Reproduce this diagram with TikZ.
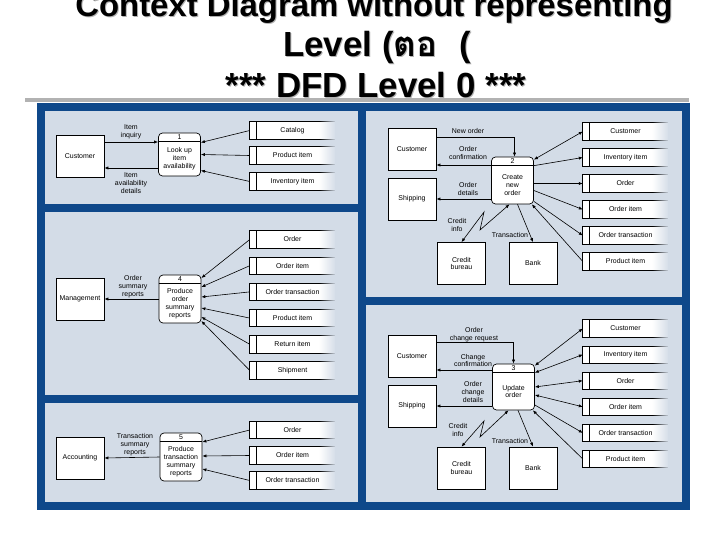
\documentclass[tikz,border=0pt]{standalone}
\usepackage{fontspec}
\setmainfont{Liberation Sans}
\newfontfamily\thaifont[Script=Thai]{Loma}
\usetikzlibrary{arrows.meta, calc, fadings}
\definecolor{frameblue}{RGB}{14,72,138}
\definecolor{panelgray}{RGB}{211,220,231}
\definecolor{rulegray}{RGB}{178,178,178}
\newcommand{\dfd}{\fontsize{7}{8}\selectfont}
\tikzfading[name=fadein, left color=transparent!100, right color=transparent!0]
\tikzset{
  ent/.style   = {draw, fill=white, align=center, minimum width=48bp, minimum height=42bp,
                  inner sep=1pt, font=\dfd, line width=0.7bp},
  proc/.style  = {draw, fill=white, rounded corners=4bp, minimum width=42bp, inner sep=0pt,
                  line width=0.7bp},
  store/.style = {fill=white, minimum width=85bp, minimum height=17bp, inner sep=0pt, font=\dfd},
  sline/.style = {line width=0.7bp},
  ar/.style    = {-{Latex[length=4bp,width=3.2bp]}, line width=0.6bp},
  biar/.style  = {{Latex[length=4bp,width=3.2bp]}-{Latex[length=4bp,width=3.2bp]}, line width=0.6bp},
  lbl/.style   = {font=\dfd, align=center, inner sep=0pt},
  ttl/.style   = {font=\fontsize{35}{40}\selectfont\bfseries, inner sep=0pt},
  ttlsh/.style = {ttl, text=black!30},
}
\newcommand{\dstore}[3]{%
  \node[store] (#1) at (#2) {#3};
  \draw[sline] (#1.north east) -- (#1.north west) -- (#1.south west) -- (#1.south east);
  \draw[sline] ([xshift=7bp]#1.north west) -- ([xshift=7bp]#1.south west);
  \fill[panelgray, path fading=fadein] ([xshift=-16bp,yshift=1bp]#1.north east)
    rectangle ([xshift=1bp,yshift=-1bp]#1.south east);
}
\newcommand{\dproc}[5]{%
  \node[proc, minimum height=#3] (#1) at (#2) {};
  \draw[sline] ([yshift=-9bp]#1.north west) -- ([yshift=-9bp]#1.north east);
  \node[lbl] (#1num) at ([yshift=-4.5bp]#1.north) {#4};
  \node[lbl] (#1txt) at ([yshift=-4.5bp]#1.center) {#5};
}

\begin{document}
\begin{tikzpicture}[x=1bp, y=-1bp]
  \useasboundingbox (0,0) rectangle (720,540);
  \fill[white] (0,0) rectangle (720,540);
  \fill[rulegray] (25,98) rectangle (689,102);
  \node[ttlsh, anchor=base, font=\fontsize{33}{40}\selectfont\bfseries] (t1s) at (375,18)
    {Context Diagram without representing};
  \node[ttl, anchor=base, font=\fontsize{33}{40}\selectfont\bfseries] (t1) at (374,17)
    {Context Diagram without representing};
  \node[ttlsh, anchor=base west] (t2s) at (284,58) {Level ({\thaifont ตอ}\hspace{22bp}(};
  \node[ttl, anchor=base west] (t2) at (283,57) {Level ({\thaifont ตอ}\hspace{22bp}(};
  \node[ttlsh, anchor=base] (t3s) at (377,99) {*** DFD Level 0 ***};
  \node[ttl, anchor=base] (t3) at (376,98) {*** DFD Level 0 ***};

  \fill[frameblue] (37,103) rectangle (690,510);
  \fill[panelgray] (45,111) rectangle (358,204);
  \fill[panelgray] (45,212) rectangle (358,395);
  \fill[panelgray] (45,403) rectangle (358,502);
  \fill[panelgray] (366,111) rectangle (682,297);
  \fill[panelgray] (366,305) rectangle (682,502);

  \node[ent] (cust1) at (80,156) {Customer};
  \dproc{p1}{179.5,154.5}{43bp}{1}{Look up\\item\\availability}
  \dstore{cat1}{292.5,130.5}{Catalog}
  \dstore{prod1}{292.5,155.5}{Product item}
  \dstore{inv1}{292.5,181.5}{Inventory item}
  \draw[ar] ([yshift=14bp]cust1.east) -- ([yshift=14bp]cust1.east -| p1.west);
  \draw[ar] ([yshift=-12bp]cust1.east -| p1.west) -- ([yshift=-12bp]cust1.east);
  \node[lbl] (l11) at (131,131.5) {Item\\inquiry};
  \node[lbl] (l12) at (131,183) {Item\\availability\\details};
  \draw[ar] (cat1.west) -- ([yshift=12bp]p1.east);
  \draw[ar] (prod1.west) -- (p1.east);
  \draw[ar] (inv1.west) -- ([yshift=-16bp]p1.east);

  \node[ent] (mgmt) at (80,299) {Management};
  \dproc{p4}{180,299}{48bp}{4}{Produce\\order\\summary\\reports}
  \dstore{ord4}{292.5,239.5}{Order}
  \dstore{oi4}{292.5,265.7}{Order item}
  \dstore{ot4}{292.5,291.9}{Order transaction}
  \dstore{prod4}{292.5,318.1}{Product item}
  \dstore{ret4}{292.5,344.3}{Return item}
  \dstore{shp4}{292.5,370.5}{Shipment}
  \draw[ar] (p4.west) -- (mgmt.east);
  \node[lbl] (l41) at (133,286.5) {Order\\summary\\reports};
  \draw[ar] (ord4.west) -- ([yshift=21bp]p4.east);
  \draw[ar] (oi4.west) -- ([yshift=12bp]p4.east);
  \draw[ar] (ot4.west) -- ([yshift=2bp]p4.east);
  \draw[ar] (prod4.west) -- ([yshift=-9bp]p4.east);
  \draw[ar] (ret4.west) -- ([yshift=-18bp]p4.east);
  \draw[ar] (shp4.west) -- ([yshift=-22bp]p4.east);

  \node[ent] (acct) at (80,458) {Accounting};
  \dproc{p5}{181,457}{48bp}{5}{Produce\\transaction\\summary\\reports}
  \dstore{ord5}{292.5,430}{Order}
  \dstore{oi5}{292.5,455.5}{Order item}
  \dstore{ot5}{292.5,480.5}{Order transaction}
  \draw[ar] (p5.west) -- (acct.east);
  \node[lbl] (l51) at (135,445) {Transaction\\summary\\reports};
  \draw[ar] (ord5.west) -- ([yshift=15bp]p5.east);
  \draw[ar] (oi5.west) -- ([yshift=1bp]p5.east);
  \draw[ar] (ot5.west) -- ([yshift=-12bp]p5.east);

  \node[ent] (cust2) at (412,149) {Customer};
  \node[ent] (ship2) at (412,199) {Shipping};
  \dproc{p2}{512.5,180.5}{47bp}{2}{Create\\new\\order}
  \node[ent] (cb2) at (461.5,263.5) {Credit\\bureau};
  \node[ent] (bank2) at (533,263.5) {Bank};
  \dstore{cs2}{625.5,131.5}{Customer}
  \dstore{inv2}{625.5,157.5}{Inventory item}
  \dstore{ord2}{625.5,183.5}{Order}
  \dstore{oi2}{625.5,209.5}{Order item}
  \dstore{ot2}{625.5,235.5}{Order transaction}
  \dstore{prod2}{625.5,261.5}{Product item}
  \draw[ar] ([yshift=12bp]cust2.east) -| ([xshift=2bp]p2.north);
  \node[lbl] (l21) at (468,131) {New order};
  \draw[ar] ([yshift=-16bp]cust2.east -| p2.west) -- ([yshift=-16bp]cust2.east);
  \node[lbl] (l22) at (468,153) {Order\\confirmation};
  \draw[ar] (ship2.east -| p2.west) -- (ship2.east);
  \node[lbl] (l23) at (468,189) {Order\\details};
  \draw[biar] (cb2.north) -- (484,212) -- (480,230) -- ([xshift=-3bp]p2.south);
  \node[lbl] (l24) at (457,225) {Credit\\info};
  \draw[ar] ([xshift=5bp]p2.south) -- (bank2.north);
  \node[lbl] (l25) at (510,235) {Transaction};
  \draw[biar] ([yshift=-3bp]p2.north east) -- (cs2.west);
  \draw[ar] ([yshift=-9bp]p2.north east) -- (inv2.west);
  \draw[ar] ([yshift=-3bp]p2.east) -- (ord2.west);
  \draw[ar] ([yshift=-10bp]p2.east) -- (oi2.west);
  \draw[ar] ([yshift=3bp]p2.south east) -- (ot2.west);
  \draw[ar] (prod2.west) -- ([xshift=-2bp]p2.south east);

  \node[ent] (cust3) at (412,356) {Customer};
  \node[ent] (ship3) at (412,406) {Shipping};
  \dproc{p3}{513.5,387}{46bp}{3}{Update\\order}
  \node[ent] (cb3) at (461.5,468) {Credit\\bureau};
  \node[ent] (bank3) at (533,468) {Bank};
  \dstore{cs3}{625.5,328.5}{Customer}
  \dstore{inv3}{625.5,354.6}{Inventory item}
  \dstore{ord3}{625.5,380.7}{Order}
  \dstore{oi3}{625.5,406.8}{Order item}
  \dstore{ot3}{625.5,432.9}{Order transaction}
  \dstore{prod3}{625.5,459}{Product item}
  \draw[ar] ([yshift=14bp]cust3.east) -| (p3.north);
  \node[lbl] (l31) at (474,334.5) {Order\\change request};
  \draw[ar] ([yshift=-14bp]cust3.east -| p3.west) -- ([yshift=-14bp]cust3.east);
  \node[lbl] (l32) at (473,360.5) {Change\\confirmation};
  \draw[ar] (ship3.east -| p3.west) -- (ship3.east);
  \node[lbl] (l33) at (473,392) {Order\\change\\details};
  \draw[biar] (cb3.north) -- (484,421) -- (480,437) -- ([xshift=-5bp]p3.south);
  \node[lbl] (l34) at (458,430) {Credit\\info};
  \draw[ar] ([xshift=4.5bp]p3.south) -- (bank3.north);
  \node[lbl] (l35) at (510,441) {Transaction};
  \draw[biar] ([yshift=-2bp]p3.north east) -- (cs3.west);
  \draw[biar] ([yshift=-9bp]p3.north east) -- (inv3.west);
  \draw[biar] (p3.east) -- (ord3.west);
  \draw[biar] ([yshift=-8bp]p3.east) -- (oi3.west);
  \draw[ar] ([yshift=-18bp]p3.east) -- (ot3.west);
  \draw[ar] (prod3.west) -- ([xshift=-2bp]p3.south east);
\end{tikzpicture}
\end{document}
